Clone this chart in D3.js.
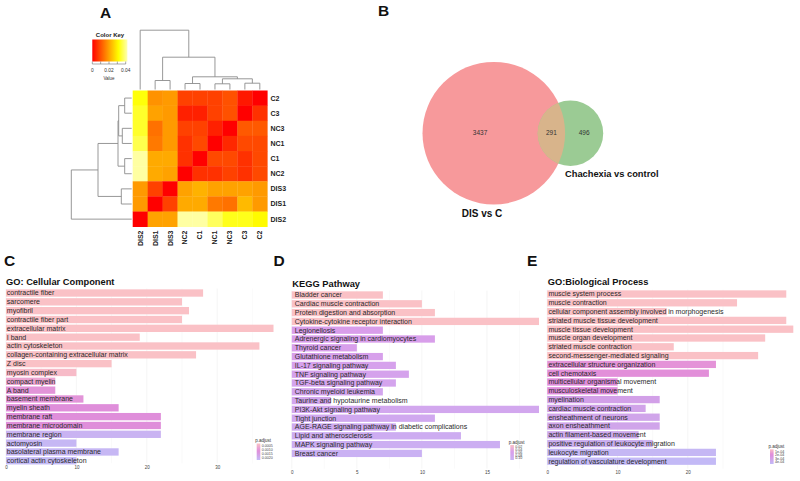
<!DOCTYPE html>
<html><head><meta charset="utf-8">
<script src="https://cdn.jsdelivr.net/npm/d3@7/dist/d3.min.js"></script>
<style>
body{margin:0;background:#fff}
svg{display:block}
text{font-family:"Liberation Sans",Arial,Helvetica,sans-serif}
</style>
</head><body>
<svg id="chart" width="800" height="481"></svg>
<script>
// ---------------- DATA ----------------
// Panel A: sample distance heatmap
const heatRows = ["C2","C3","NC3","NC1","C1","NC2","DIS3","DIS1","DIS2"];
const heatCols = ["DIS2","DIS1","DIS3","NC2","C1","NC1","NC3","C3","C2"];
const heatValues = [
  [0.032,0.018,0.019,0.008,0.008,0.008,0.010,0.003,0.000],
  [0.034,0.020,0.019,0.004,0.004,0.008,0.010,0.000,0.006],
  [0.034,0.014,0.019,0.008,0.008,0.004,0.000,0.011,0.011],
  [0.036,0.015,0.019,0.006,0.009,0.000,0.005,0.009,0.009],
  [0.041,0.021,0.021,0.006,0.000,0.009,0.009,0.006,0.009],
  [0.041,0.021,0.020,0.000,0.006,0.006,0.008,0.006,0.009],
  [0.019,0.008,0.000,0.020,0.022,0.020,0.020,0.020,0.019],
  [0.019,0.000,0.008,0.021,0.021,0.015,0.014,0.023,0.019],
  [0.000,0.020,0.020,0.041,0.041,0.037,0.033,0.033,0.031]
];
const colorKeyTicks = [0, 0.02, 0.04];
const colorKeyMinor = [0, 0.01, 0.02, 0.03, 0.04];
const colorKeyMax = 0.042;
// dendrograms: [height, left, right]
const colTree = [5.93, "DIS2", [3.23, [0.90, "DIS1", "DIS3"], [1.27, [0.60, "NC2", "C1"], [1.07, [0.57, "NC1", "NC3"], [0.63, "C3", "C2"]]]]];
const rowTree = [6.04, [3.37, [1.37, [1.30, [0.70, "C2", "C3"], [0.94, "NC3", "NC1"]], [0.70, "C1", "NC2"]], [1.04, "DIS3", "DIS1"]], "DIS2"];

// Panel B: Venn
const vennSetNames = ["DIS vs C", "Chachexia vs control"];
const vennOnlyA = 3437, vennBoth = 291, vennOnlyB = 496;

// Panel C: GO Cellular Component
const ccTerms = ["contractile fiber","sarcomere","myofibril","contractile fiber part","extracellular matrix","I band","actin cytoskeleton","collagen-containing extracellular matrix","Z disc","myosin complex","compact myelin","A band","basement membrane","myelin sheath","membrane raft","membrane microdomain","membrane region","actomyosin","basolateral plasma membrane","cortical actin cytoskeleton"];
const ccCounts = [28,25,26,25,38,19,36,27,15,10,7,7,11,16,22,22,22,10,16,10];
const ccPadj = [0.0001,0.0001,0.0001,0.0001,0.0001,0.0002,0.0002,0.0003,0.0003,0.0004,0.0008,0.0011,0.0011,0.0012,0.0012,0.0012,0.0021,0.0022,0.0022,0.0023];
const ccTicks = [0,10,20,30];
const ccLegendLabels = ["0.0005","0.0010","0.0015","0.0020"];

// Panel D: KEGG
const keggTerms = ["Bladder cancer","Cardiac muscle contraction","Protein digestion and absorption","Cytokine-cytokine receptor interaction","Legionellosis","Adrenergic signaling in cardiomyocytes","Thyroid cancer","Glutathione metabolism","IL-17 signaling pathway","TNF signaling pathway","TGF-beta signaling pathway","Chronic myeloid leukemia","Taurine and hypotaurine metabolism","PI3K-Akt signaling pathway","Tight junction","AGE-RAGE signaling pathway in diabetic complications","Lipid and atherosclerosis","MAPK signaling pathway","Breast cancer"];
const keggCounts = [7,10,11,19,7,11,5,7,8,9,8,7,3,19,11,8,13,16,10];
const keggPadj = [0.005,0.006,0.008,0.010,0.050,0.052,0.054,0.056,0.060,0.062,0.065,0.068,0.070,0.072,0.076,0.080,0.084,0.088,0.095];
const keggTicks = [0,5,10,15];
const keggLegendLabels = ["0.02","0.04","0.06","0.08","0.10"];

// Panel E: GO Biological Process
const bpTerms = ["muscle system process","muscle contraction","cellular component assembly involved in morphogenesis","striated muscle tissue development","muscle tissue development","muscle organ development","striated muscle contraction","second-messenger-mediated signaling","extracellular structure organization","cell chemotaxis","multicellular organismal movement","musculoskeletal movement","myelination","cardiac muscle contraction","ensheathment of neurons","axon ensheathment","actin filament-based movement","positive regulation of leukocyte migration","leukocyte migration","regulation of vasculature development"];
const bpCounts = [34,27,17,34,35,31,18,30,24,23,10,10,16,14,16,16,13,15,24,24];
const bpPadj = [0.00002,0.00002,0.00003,0.00003,0.00004,0.00005,0.00006,0.00007,0.00018,0.00019,0.00021,0.00021,0.00030,0.00031,0.00032,0.00032,0.00034,0.00036,0.00040,0.00041];
const bpTicks = [0,10,20];
const bpLegendLabels = ["1e-04","2e-04","3e-04","4e-04"];

// ---------------- DRAWING ----------------
const svg = d3.select("#chart");
const FONT = "'Liberation Sans',Arial,sans-serif";

function letter(t, x, y) {
  svg.append("text").attr("x", x).attr("y", y).text(t)
    .attr("font-size", 15.5).attr("font-weight", "bold").attr("fill", "#111");
}

// ===== Panel A =====
letter("A", 100, 18);
const hx = d3.scaleBand().domain(heatCols).range([132.7, 267.3]);
const hy = d3.scaleBand().domain(heatRows).range([90.5, 226.7]);
const heatColor = d3.scaleLinear().domain([0, 0.0315, 0.045])
  .range(["#ff0000", "#ffff00", "#ffffe6"]).clamp(true);

const gA = svg.append("g");
heatRows.forEach((r, i) => {
  heatCols.forEach((c, j) => {
    gA.append("rect").attr("x", hx(c)).attr("y", hy(r))
      .attr("width", hx.bandwidth() + 0.3).attr("height", hy.bandwidth() + 0.3)
      .attr("fill", heatColor(heatValues[i][j]));
  });
});
// labels
heatRows.forEach(r => {
  gA.append("text").attr("x", 270.5).attr("y", hy(r) + hy.bandwidth() / 2)
    .attr("dy", "0.35em").attr("font-size", 7).attr("font-weight", "bold")
    .attr("fill", "#222").text(r);
});
heatCols.forEach(c => {
  gA.append("text").attr("transform", `translate(${hx(c) + hx.bandwidth() / 2},230.5) rotate(-90)`)
    .attr("dy", "0.35em").attr("text-anchor", "end").attr("font-size", 7)
    .attr("font-weight", "bold").attr("fill", "#222").text(c);
});

// dendrograms
const dScale = d3.scaleLinear().domain([0, 6.04]).range([0, 60.4]);
function layoutTree(node, posFn) {
  if (typeof node === "string") return { pos: posFn(node), h: 0, leaf: true };
  const L = layoutTree(node[1], posFn), R = layoutTree(node[2], posFn);
  return { pos: (L.pos + R.pos) / 2, h: node[0], L, R };
}
function drawTree(g, t, toXY, base) {
  if (t.leaf) return;
  const segs = [[t.L, t.h], [t.R, t.h]];
  // horizontal between children at height h
  const p1 = toXY(t.L.pos, dScale(t.h)), p2 = toXY(t.R.pos, dScale(t.h));
  g.append("line").attr("x1", p1[0]).attr("y1", p1[1]).attr("x2", p2[0]).attr("y2", p2[1]);
  [t.L, t.R].forEach(ch => {
    const a = toXY(ch.pos, dScale(t.h));
    const b = toXY(ch.pos, ch.leaf ? base : dScale(ch.h));
    g.append("line").attr("x1", a[0]).attr("y1", a[1]).attr("x2", b[0]).attr("y2", b[1]);
    drawTree(g, ch, toXY, base);
  });
}
const gDen = svg.append("g").attr("stroke", "#8c8c8c").attr("stroke-width", 0.9).attr("fill", "none");
const colT = layoutTree(colTree, c => hx(c) + hx.bandwidth() / 2);
drawTree(gDen, colT, (p, h) => [p, 89.5 - h], 0);
const rowT = layoutTree(rowTree, r => hy(r) + hy.bandwidth() / 2);
drawTree(gDen, rowT, (p, h) => [131.7 - h, p], 0);

// color key
const keyX = d3.scaleLinear().domain([0, 0.04]).range([92.3, 125.7]);
const defs = svg.append("defs");
const kg = defs.append("linearGradient").attr("id", "keyGrad");
d3.range(0, 1.0001, 0.05).forEach(f => {
  kg.append("stop").attr("offset", f).attr("stop-color", heatColor(f * colorKeyMax));
});
gA.append("text").attr("x", 110).attr("y", 36.5).attr("text-anchor", "middle")
  .attr("font-size", 6).attr("font-weight", "bold").attr("fill", "#222").text("Color Key");
gA.append("rect").attr("x", keyX(0)).attr("y", 39.5).attr("width", keyX(colorKeyMax) - keyX(0))
  .attr("height", 22).attr("fill", "url(#keyGrad)");
colorKeyMinor.forEach(v => {
  gA.append("line").attr("x1", keyX(v)).attr("x2", keyX(v)).attr("y1", 61.5).attr("y2", 64)
    .attr("stroke", "#555").attr("stroke-width", 0.5);
});
gA.append("line").attr("x1", keyX(0)).attr("x2", keyX(0.04)).attr("y1", 64).attr("y2", 64)
  .attr("stroke", "#555").attr("stroke-width", 0.5);
colorKeyTicks.forEach(v => {
  gA.append("text").attr("x", keyX(v)).attr("y", 72).attr("text-anchor", "middle")
    .attr("font-size", 4.8).attr("fill", "#333").text(v === 0 ? "0" : v.toFixed(2));
});
gA.append("text").attr("x", 109).attr("y", 80).attr("text-anchor", "middle")
  .attr("font-size", 4.5).attr("fill", "#333").text("Value");

// ===== Panel B =====
letter("B", 378, 16);
const totalA = vennOnlyA + vennBoth, totalB = vennOnlyB + vennBoth;
const rScale = d3.scaleSqrt().domain([0, totalA]).range([0, 71.3]);
const rA = rScale(totalA), rB = rScale(totalB);
const cA = [493.8, 133.2];
const lensDepth = 27.4;
const cB = [cA[0] + rA + rB - lensDepth, cA[1]];
const gB = svg.append("g");
defs.append("clipPath").attr("id", "clipA").append("circle")
  .attr("cx", cA[0]).attr("cy", cA[1]).attr("r", rA);
gB.append("circle").attr("cx", cA[0]).attr("cy", cA[1]).attr("r", rA).attr("fill", "#f7999b");
gB.append("circle").attr("cx", cB[0]).attr("cy", cB[1]).attr("r", rB).attr("fill", "#9bcb94");
gB.append("circle").attr("cx", cB[0]).attr("cy", cB[1]).attr("r", rB).attr("fill", "#d8b48b")
  .attr("clip-path", "url(#clipA)");
const leftA = cA[0] - rA, rightA = cA[0] + rA, leftB = cB[0] - rB, rightB = cB[0] + rB;
[[vennOnlyA, (leftA + leftB) / 2], [vennBoth, (leftB + rightA) / 2], [vennOnlyB, (rightA + rightB) / 2]]
  .forEach(([v, x]) => {
    gB.append("text").attr("x", x).attr("y", cA[1]).attr("dy", "0.35em").attr("text-anchor", "middle")
      .attr("font-size", 6.5).attr("fill", "#333").text(v);
  });
gB.append("text").attr("x", 461.7).attr("y", 216.5).attr("font-size", 10).attr("font-weight", "bold")
  .attr("fill", "#111").text(vennSetNames[0]);
gB.append("text").attr("x", 565).attr("y", 176.5).attr("font-size", 9.3).attr("font-weight", "bold")
  .attr("fill", "#111").text(vennSetNames[1]);

// ===== Bar panels =====
function barPanel(cfg) {
  const g = svg.append("g");
  letter(cfg.letter, cfg.letterX, 265.5);
  g.append("text").attr("x", cfg.titleX).attr("y", cfg.titleY).attr("font-size", 9.3)
    .attr("font-weight", "bold").attr("fill", "#111").text(cfg.title);
  const x = d3.scaleLinear().domain([0, cfg.maxV]).range([cfg.x0, cfg.x1]);
  const y = d3.scaleBand().domain(cfg.terms)
    .range([cfg.y0, cfg.y0 + cfg.step * cfg.terms.length]).paddingInner(0.17).paddingOuter(0.085);
  const col = d3.scaleLinear().domain(cfg.colorDomain).range(cfg.colorRange).clamp(true);
  // grid
  const gridTop = cfg.y0, gridBot = cfg.tickY - 4;
  const majors = cfg.ticks, step = majors[1] - majors[0];
  const minors = majors.map(t => t + step / 2).filter(t => t <= cfg.maxV);
  minors.forEach(t => g.append("line").attr("x1", x(t)).attr("x2", x(t)).attr("y1", gridTop).attr("y2", gridBot)
    .attr("stroke", "#f5f5f5").attr("stroke-width", 0.5));
  majors.forEach(t => g.append("line").attr("x1", x(t)).attr("x2", x(t)).attr("y1", gridTop).attr("y2", gridBot)
    .attr("stroke", "#eeeeee").attr("stroke-width", 0.6));
  // bars
  g.selectAll("rect.bar").data(cfg.terms).join("rect").attr("class", "bar")
    .attr("x", x(0)).attr("y", d => y(d))
    .attr("width", (d, i) => x(cfg.counts[i]) - x(0)).attr("height", y.bandwidth())
    .attr("fill", (d, i) => col(cfg.padj[i]));
  g.selectAll("text.lab").data(cfg.terms).join("text").attr("class", "lab")
    .attr("x", x(0) + cfg.textOffset).attr("y", d => y(d) + y.bandwidth() / 2).attr("dy", "0.35em")
    .attr("font-size", 7).attr("fill", "#2a2a2a").text(d => d);
  // axis
  const ax = g.append("g").attr("transform", `translate(0,${cfg.tickY})`)
    .call(d3.axisBottom(x).tickValues(cfg.ticks).tickSize(0).tickPadding(0).tickFormat(d3.format("d")));
  ax.select(".domain").remove();
  ax.selectAll("text").attr("y", 0).attr("dy", "0.35em").attr("font-size", 4.5)
    .attr("fill", "#444").attr("font-family", FONT);
  // legend
  const L = cfg.legend;
  const gid = "lg" + cfg.letter;
  const lg = defs.append("linearGradient").attr("id", gid).attr("x1", 0).attr("x2", 0).attr("y1", 0).attr("y2", 1);
  const pd = d3.extent(cfg.colorDomain);
  d3.range(0, 1.0001, 0.1).forEach(f => lg.append("stop").attr("offset", f)
    .attr("stop-color", col(pd[0] + f * (pd[1] - pd[0]))));
  g.append("text").attr("x", L.x - 1.5).attr("y", L.y - 1.5).attr("font-size", 4.5).attr("fill", "#333").text("p.adjust");
  g.append("rect").attr("x", L.x).attr("y", L.y).attr("width", 3.6).attr("height", L.h).attr("fill", `url(#${gid})`);
  const ly = d3.scalePoint().domain(L.labels).range([L.y + 2, L.y + L.h - 2]);
  L.labels.forEach(t => g.append("text").attr("x", L.x + 5).attr("y", ly(t)).attr("dy", "0.35em")
    .attr("font-size", 3.6).attr("fill", "#444").text(t));
}

barPanel({
  letter: "C", letterX: 4, title: "GO: Cellular Component", titleX: 6, titleY: 285,
  terms: ccTerms, counts: ccCounts, padj: ccPadj, maxV: 38, x0: 6, x1: 273.5,
  y0: 288.6, step: 8.83, ticks: ccTicks, tickY: 467.3, textOffset: 0.8,
  colorDomain: [0.0003, 0.0012, 0.0023], colorRange: ["#fac1c6", "#df8eda", "#c4bbf7"],
  legend: { x: 256.7, y: 443.5, h: 16.5, labels: ccLegendLabels }
});
barPanel({
  letter: "D", letterX: 273.5, title: "KEGG Pathway", titleX: 292.3, titleY: 286.5,
  terms: keggTerms, counts: keggCounts, padj: keggPadj, maxV: 19, x0: 291.8, x1: 539,
  y0: 290.6, step: 8.8, ticks: keggTicks, tickY: 472.7, textOffset: 3,
  colorDomain: [0.01, 0.05, 0.1], colorRange: ["#fac1c6", "#d99dea", "#c8b3f4"],
  legend: { x: 510.3, y: 445, h: 15, labels: keggLegendLabels }
});
barPanel({
  letter: "E", letterX: 527, title: "GO:Biological Process", titleX: 547.7, titleY: 284.5,
  terms: bpTerms, counts: bpCounts, padj: bpPadj, maxV: 35, x0: 547.2, x1: 793.3,
  y0: 289.6, step: 8.8, ticks: bpTicks, tickY: 472.7, textOffset: 1.2,
  colorDomain: [0.00008, 0.0002, 0.00042], colorRange: ["#fac1c6", "#e08adb", "#c2bbf7"],
  legend: { x: 770, y: 449.3, h: 14.7, labels: bpLegendLabels }
});
</script>
</body></html>
